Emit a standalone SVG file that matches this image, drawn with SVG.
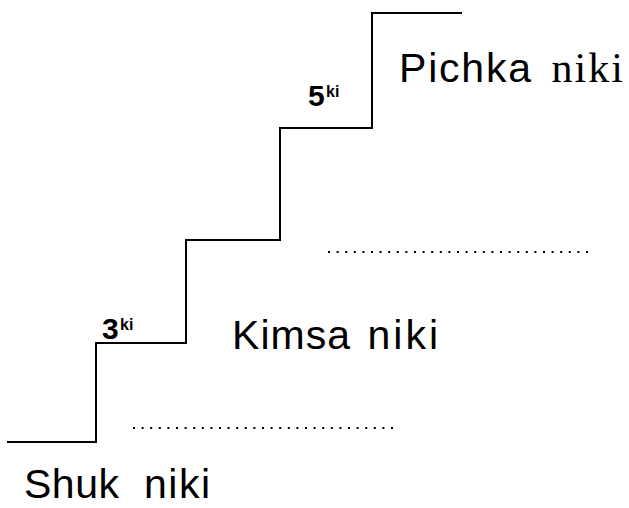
<svg xmlns="http://www.w3.org/2000/svg" width="629" height="508" viewBox="0 0 629 508">
  <style>
    .stair { fill: none; stroke: #000; stroke-width: 2; stroke-linejoin: miter; }
    .dots { stroke: #000; stroke-width: 2; stroke-dasharray: 2 6.6; }
    .lbl { font-family: "Liberation Sans", Arial, sans-serif; font-size: 41px; fill: #000; }
    .serif { font-family: "Liberation Serif", "Times New Roman", serif; font-size: 42px; }
    .num { font-family: "Liberation Sans", Arial, sans-serif; font-weight: bold; fill: #000; }
    .big { font-size: 30px; }
    .sup { font-size: 16px; }
  </style>
  <rect width="629" height="508" fill="#fff"/>
  <g id="connectors">
    <path id="stairs" class="stair" d="M7,442 H96 V343 H186 V240 H280 V128 H372 V13 H462"/>
    <line id="dots-upper" class="dots" x1="328" y1="252" x2="588" y2="252"/>
    <line id="dots-lower" class="dots" x1="133" y1="428" x2="395" y2="428"/>
  </g>
  <g id="node-pichka">
    <text class="lbl"><tspan x="399" y="82" textLength="132">Pichka</tspan><tspan class="serif" x="539" y="82" textLength="84"> niki</tspan></text>
  </g>
  <g id="node-5ki">
    <text class="num"><tspan class="big" x="308" y="106">5</tspan><tspan class="sup" x="326" y="97">ki</tspan></text>
  </g>
  <g id="node-kimsa">
    <text class="lbl"><tspan x="232" y="349" textLength="118">Kimsa</tspan><tspan x="353" y="349" textLength="85"> niki</tspan></text>
  </g>
  <g id="node-3ki">
    <text class="num"><tspan class="big" x="102" y="339">3</tspan><tspan class="sup" x="120" y="330">ki</tspan></text>
  </g>
  <g id="node-shuk">
    <text class="lbl"><tspan x="24" y="498" textLength="95">Shuk</tspan><tspan x="131" y="498" textLength="79"> niki</tspan></text>
  </g>
</svg>
